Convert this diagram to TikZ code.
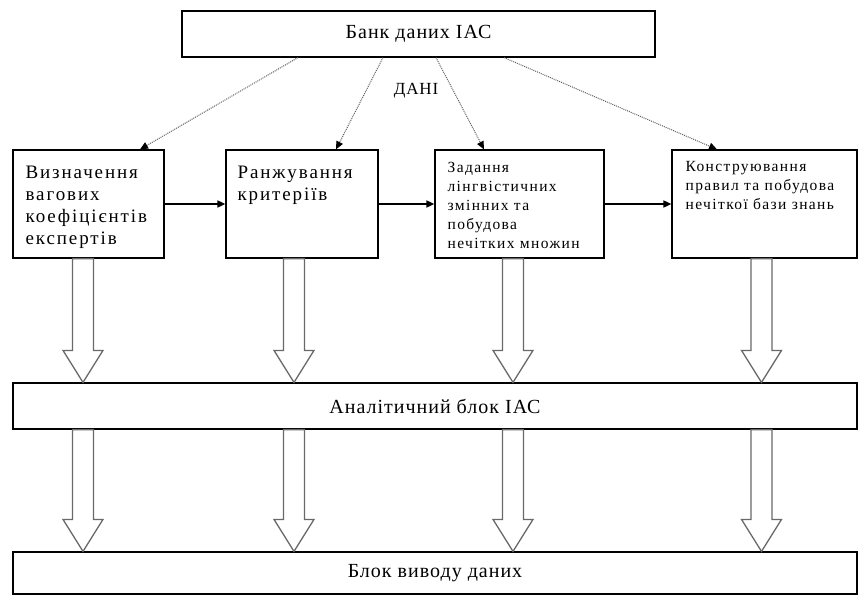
\documentclass[tikz,border=0pt]{standalone}
\usepackage{fontspec}
\setmainfont{Liberation Serif}
\newfontfamily\widefont[LetterSpace=10]{Liberation Serif}
\newfontfamily\smallfont[LetterSpace=9]{Liberation Serif}
\newfontfamily\midfont[LetterSpace=5]{Liberation Serif}
\usepackage{tikz}
\usetikzlibrary{arrows.meta, positioning}
\definecolor{datacolor}{RGB}{95,95,95}
\definecolor{hollowcolor}{RGB}{105,105,105}

% hollow block arrow: #1 column x, #2 upper node, #3 lower node
\newcommand{\hollowarrow}[3]{%
  \coordinate (ha-s) at (#2.south -| #1,0);
  \coordinate (ha-e) at (#3.north -| #1,0);
  \draw[hollow] ([xshift=-10.5pt]ha-s) -- ([xshift=-10.5pt, yshift=32pt]ha-e)
    -- ([xshift=-20pt, yshift=32pt]ha-e) -- (ha-e)
    -- ([xshift=20pt, yshift=32pt]ha-e) -- ([xshift=10.5pt, yshift=32pt]ha-e)
    -- ([xshift=10.5pt]ha-s) -- cycle;
}

\begin{document}
\begin{tikzpicture}[
    x=1pt, y=-1pt,
    box/.style={draw, line width=1.2pt, fill=white, inner sep=0pt, minimum height=108pt},
    wide/.style={draw, line width=1.2pt, fill=white, inner sep=0pt, minimum width=844pt, font=\midfont\fontsize{20}{24}\selectfont},
    boxtext/.style={align=left, inner sep=0pt, font=\widefont\fontsize{19}{22}\selectfont},
    smalltext/.style={align=left, inner sep=0pt, font=\smallfont\fontsize{15.5}{19}\selectfont},
    data/.style={draw=datacolor, line width=1pt, densely dotted, -{Triangle[length=8pt, width=7pt, color=black]}},
    arrow/.style={line width=1.6pt, -{Triangle[length=8pt, width=7pt]}},
    hollow/.style={draw=hollowcolor, line width=1.3pt, fill=white}
]
    \useasboundingbox (0,0) rectangle (858,596);

    % data bank
    \node[wide, minimum width=473pt, minimum height=46pt] (bank) at (418.5,34) {Банк даних ІАС};
    \node[font=\midfont\fontsize{17}{20}\selectfont] (dani) at (416,91) {ДАНІ};

    % processing steps
    \node[box, minimum width=151pt] (vyz) at (88.5,204) {};
    \node[box, minimum width=152pt] (ranzh) at (302,204) {};
    \node[box, minimum width=169pt] (zad) at (519.5,204) {};
    \node[box, minimum width=185pt] (konstr) at (764.5,204) {};

    \node[boxtext, below right=16pt and 13pt of vyz.north west] (vyzt) {Визначення\\вагових\\коефіцієнтів\\експертів};
    \node[boxtext, below right=16pt and 12pt of ranzh.north west] (ranzht) {Ранжування\\критеріїв};
    \node[smalltext, below right=13pt and 13pt of zad.north west] (zadt) {Задання\\лінгвістичних\\змінних та\\побудова\\нечітких множин};
    \node[smalltext, below right=12pt and 14pt of konstr.north west] (konstrt) {Конструювання\\правил та побудова\\нечіткої бази знань};

    % lower blocks
    \node[wide, minimum height=46pt] (analit) at (435,406) {Аналітичний блок ІАС};
    \node[wide, minimum height=42pt] (vyvid) at (435,573) {Блок виводу даних};

    % data flows
    \draw[data] (bank.south -| 298,0) -- (vyz.north -| 140,0);
    \draw[data] (bank.south -| 383,0) -- (ranzh.north -| 336,0);
    \draw[data] (bank.south -| 436,0) -- (zad.north -| 484,0);
    \draw[data] (bank.south -| 504,0) -- (konstr.north -| 717,0);

    % sequence
    \draw[arrow] (vyz) -- (ranzh);
    \draw[arrow] (ranzh) -- (zad);
    \draw[arrow] (zad) -- (konstr);

    % block arrows
    \hollowarrow{83}{vyz}{analit}
    \hollowarrow{294}{ranzh}{analit}
    \hollowarrow{513}{zad}{analit}
    \hollowarrow{761.5}{konstr}{analit}
    \hollowarrow{83}{analit}{vyvid}
    \hollowarrow{294}{analit}{vyvid}
    \hollowarrow{513}{analit}{vyvid}
    \hollowarrow{761.5}{analit}{vyvid}
\end{tikzpicture}
\end{document}
